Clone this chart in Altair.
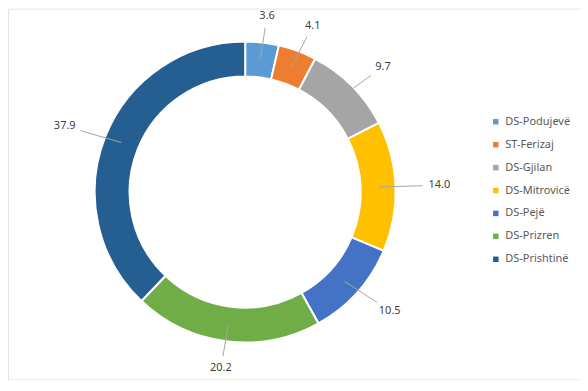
import math
import altair as alt
import pandas as pd

categories = ["DS-Podujevë", "ST-Ferizaj", "DS-Gjilan", "DS-Mitrovicë", "DS-Pejë", "DS-Prizren", "DS-Prishtinë"]
values = [3.6, 4.1, 9.7, 14.0, 10.5, 20.2, 37.9]
colors = ["#5B9BD5", "#ED7D31", "#A5A5A5", "#FFC000", "#4472C4", "#70AD47", "#255E91"]

W, H = 574, 372
CX, CY = 238, 184
R_OUT, R_IN = 151, 116

total = sum(values)
rows = []
cum = 0.0
for i, (c, v) in enumerate(zip(categories, values)):
    mid = (cum + v / 2) / total * 2 * math.pi
    cum += v
    s, co = math.sin(mid), math.cos(mid)
    rows.append(dict(
        idx=i, cat=c, value=v, label=f"{v:.1f}",
        lx=CX + 195 * s, ly=CY - 178 * co,
        x1=CX + 134 * s, y1=CY - 134 * co,
        x2=CX + 178 * s, y2=CY - 166 * co,
    ))
df = pd.DataFrame(rows)

xs = alt.Scale(domain=[0, W], nice=False, zero=False)
ys = alt.Scale(domain=[0, H], nice=False, zero=False, reverse=True)

base = alt.Chart(df)

arcs = base.mark_arc(innerRadius=R_IN, outerRadius=R_OUT, stroke="white", strokeWidth=2).encode(
    theta=alt.Theta("value:Q", stack=True),
    color=alt.Color(
        "cat:N",
        scale=alt.Scale(domain=categories, range=colors),
        sort=categories,
        legend=alt.Legend(
            title=None, orient="none", legendX=484, legendY=108,
            symbolType="square", symbolSize=30, symbolStrokeWidth=0,
            labelFont="Noto Sans", labelFontSize=11, labelColor="#595959",
            rowPadding=11, labelOffset=4, padding=0,
        ),
    ),
    order=alt.Order("idx:Q"),
    x=alt.value(CX), y=alt.value(CY),
)

leaders = base.mark_rule(color="#a6a6a6", strokeWidth=1).encode(
    x=alt.X("x1:Q", scale=xs, axis=None),
    y=alt.Y("y1:Q", scale=ys, axis=None),
    x2="x2:Q", y2="y2:Q",
)

labels = base.mark_text(font="Noto Sans", fontSize=11, color="#404040", baseline="middle").encode(
    x=alt.X("lx:Q", scale=xs, axis=None),
    y=alt.Y("ly:Q", scale=ys, axis=None),
    text="label:N",
)

chart = alt.layer(arcs, leaders, labels).properties(
    width=W, height=H, padding=0, autosize=alt.AutoSizeParams(type="none"),
).configure_view(stroke="#e3e3e3", strokeWidth=1)

chart.save("out.html", embed_options={"renderer": "svg", "actions": False})
